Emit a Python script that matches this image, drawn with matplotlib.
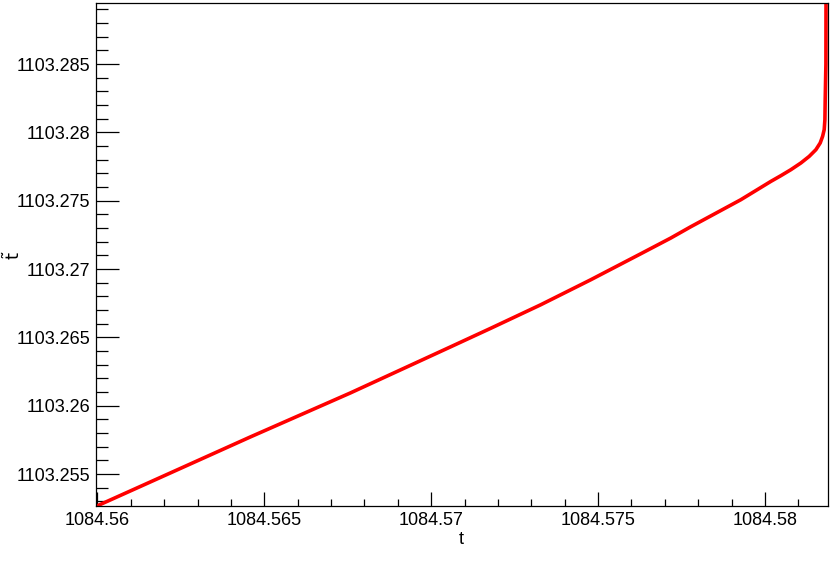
import matplotlib.pyplot as plt
from matplotlib.ticker import MultipleLocator, AutoMinorLocator, FuncFormatter

# values
t = [1084.55998, 1084.561581, 1084.564580, 1084.567580, 1084.570579,
     1084.571779, 1084.573278, 1084.574778, 1084.576278, 1084.577177,
     1084.577777, 1084.579277, 1084.580177, 1084.580477, 1084.580777,
     1084.581077, 1084.581326, 1084.581527, 1084.581656, 1084.581728,
     1084.581776, 1084.581797, 1084.581806, 1084.581827, 1084.581830]
t_tilde = [1103.252656, 1103.254414, 1103.257711, 1103.260934, 1103.264304,
           1103.265659, 1103.267381, 1103.269212, 1103.271117, 1103.272267,
           1103.273095, 1103.275073, 1103.276414, 1103.276832, 1103.277271,
           1103.277762, 1103.278245, 1103.278736, 1103.279227, 1103.279711,
           1103.280201, 1103.280934, 1103.282399, 1103.285000, 1103.289600]

x_range = (1084.55995, 1084.58188)
y_range = (1103.25266, 1103.28947)

plt.rcParams['font.family'] = ['Liberation Sans', 'DejaVu Sans']

fig = plt.figure(figsize=(8.3, 5.64), dpi=100)
ax = fig.add_axes([0.1153, 0.1028, 0.8819, 0.8919])

ax.plot(t, t_tilde, color='#ff0000', lw=2.6, solid_joinstyle='round')

ax.set_xlim(*x_range)
ax.set_ylim(*y_range)


def fmt(v, pos):
    return '{:.3f}'.format(v).rstrip('0').rstrip('.')


ax.xaxis.set_major_locator(MultipleLocator(0.005))
ax.yaxis.set_major_locator(MultipleLocator(0.005))
ax.xaxis.set_minor_locator(AutoMinorLocator(5))
ax.yaxis.set_minor_locator(AutoMinorLocator(5))
ax.xaxis.set_major_formatter(FuncFormatter(fmt))
ax.yaxis.set_major_formatter(FuncFormatter(fmt))

ax.tick_params(which='both', direction='in', top=False, right=False,
               labelsize=13, width=0.9, color='black')
ax.tick_params(axis='x', which='major', length=10, pad=4)
ax.tick_params(axis='x', which='minor', length=5)
ax.tick_params(axis='y', which='major', length=16.3, pad=4)
ax.tick_params(axis='y', which='minor', length=8.4)

for s in ax.spines.values():
    s.set_linewidth(0.9)
    s.set_color('black')

fig.text(461 / 830, 1 - 539 / 564, 't', fontsize=13, ha='center', va='center')
fig.text(3 / 830, 1 - 255 / 564, r'$\tilde{\mathsf{t}}$', fontsize=13,
         rotation=90, ha='left', va='center', math_fontfamily='dejavusans')

fig.savefig('out.png', dpi=100)
